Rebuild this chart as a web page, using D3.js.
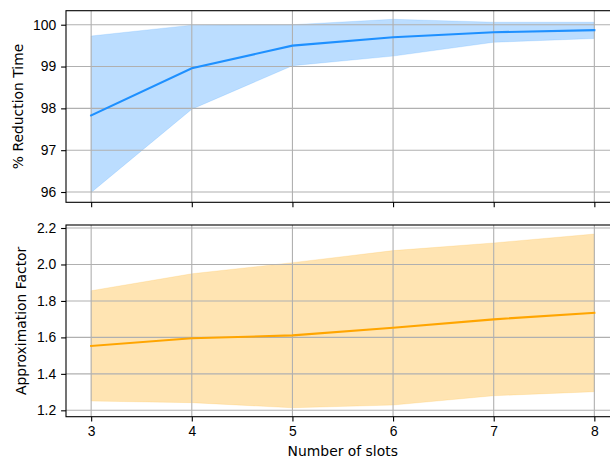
<!DOCTYPE html>
<html>
<head>
<meta charset="utf-8">
<script src="https://cdn.jsdelivr.net/npm/d3@7"></script>
<style>
  body { margin: 0; background: #fff; }
  svg { display: block; font-family: "DejaVu Sans", sans-serif; }
</style>
</head>
<body>
<div id="chart"></div>
<script>
// data
const slots = [3, 4, 5, 6, 7, 8];
const reductionMean = [97.83, 98.96, 99.50, 99.70, 99.82, 99.87];
const reductionHigh = [99.73, 99.99, 100.00, 100.13, 100.06, 100.06];
const reductionLow  = [95.99, 97.98, 99.02, 99.25, 99.58, 99.67];
const approxMean = [1.553, 1.595, 1.611, 1.653, 1.699, 1.735];
const approxHigh = [1.856, 1.949, 2.010, 2.076, 2.118, 2.167];
const approxLow  = [1.251, 1.242, 1.214, 1.229, 1.280, 1.302];
const reductionTicks = [96, 97, 98, 99, 100];
const approxTicks = [1.2, 1.4, 1.6, 1.8, 2.0, 2.2];

const width = 610, height = 459;
const fontSize = "13.9px";

const svg = d3.select("#chart").append("svg")
  .attr("width", width)
  .attr("height", height);

// x extends past the right edge of the picture (figure is cropped)
const x = d3.scaleLinear()
  .domain([2.75, 8.25])
  .range([66, 619.5]);

function drawPanel(opts) {
  const y = d3.scaleLinear()
    .domain(opts.domain)
    .range([opts.bottom, opts.top]);

  const g = svg.append("g");

  // band
  const area = d3.area()
    .x((d, i) => x(slots[i]))
    .y0((d, i) => y(opts.low[i]))
    .y1((d, i) => y(opts.high[i]));
  g.append("path")
    .datum(slots)
    .attr("d", area)
    .attr("fill", opts.color)
    .attr("fill-opacity", 0.3)
    .attr("stroke", opts.color)
    .attr("stroke-opacity", 0.3)
    .attr("stroke-width", 0.5);

  // grid
  g.append("g").selectAll("line").data(slots).join("line")
    .attr("x1", d => x(d)).attr("x2", d => x(d))
    .attr("y1", opts.top).attr("y2", opts.bottom)
    .attr("stroke", "#b0b0b0").attr("stroke-width", 1.1);
  g.append("g").selectAll("line").data(opts.ticks).join("line")
    .attr("x1", x.range()[0]).attr("x2", x.range()[1])
    .attr("y1", d => y(d)).attr("y2", d => y(d))
    .attr("stroke", "#b0b0b0").attr("stroke-width", 1.1);

  // mean line
  const line = d3.line()
    .x((d, i) => x(slots[i]))
    .y(d => y(d));
  g.append("path")
    .datum(opts.mean)
    .attr("d", line)
    .attr("fill", "none")
    .attr("stroke", opts.color)
    .attr("stroke-width", 2.1)
    .attr("stroke-linecap", "square");

  // axes
  const yAxis = g.append("g")
    .attr("transform", `translate(${x.range()[0]},0)`)
    .call(d3.axisLeft(y).tickValues(opts.ticks).tickSize(4.9).tickPadding(4.9)
      .tickFormat(opts.format));
  yAxis.select(".domain").remove();
  yAxis.selectAll("text").style("font-size", fontSize).attr("fill", "#000");
  yAxis.selectAll("line").attr("stroke", "#000").attr("stroke-width", 1.1);

  const xAxis = g.append("g")
    .attr("transform", `translate(0,${opts.bottom})`)
    .call(d3.axisBottom(x).tickValues(slots).tickSize(4.9).tickPadding(4.9)
      .tickFormat(opts.showX ? d3.format("d") : ""));
  xAxis.select(".domain").remove();
  xAxis.selectAll("text").style("font-size", fontSize).attr("fill", "#000");
  xAxis.selectAll("line").attr("stroke", "#000").attr("stroke-width", 1.1);

  // spines
  g.append("rect")
    .attr("x", x.range()[0])
    .attr("y", opts.top)
    .attr("width", x.range()[1] - x.range()[0])
    .attr("height", opts.bottom - opts.top)
    .attr("fill", "none")
    .attr("stroke", "#000")
    .attr("stroke-width", 1.1);

  // y label
  svg.append("text")
    .attr("transform", `translate(${opts.labelX},${(opts.top + opts.bottom) / 2}) rotate(-90)`)
    .attr("text-anchor", "middle")
    .attr("dominant-baseline", "central")
    .style("font-size", fontSize)
    .text(opts.label);
}

drawPanel({
  top: 10.7, bottom: 202.3,
  domain: [95.754, 100.335],
  ticks: reductionTicks,
  format: d3.format("d"),
  low: reductionLow, high: reductionHigh, mean: reductionMean,
  color: "#1e90ff",
  label: "% Reduction Time",
  labelX: 17.5,
  showX: false
});

drawPanel({
  top: 225, bottom: 416.7,
  domain: [1.165, 2.2165],
  ticks: approxTicks,
  format: d3.format(".1f"),
  low: approxLow, high: approxHigh, mean: approxMean,
  color: "#ffa500",
  label: "Approximation Factor",
  labelX: 21,
  showX: true
});

svg.append("text")
  .attr("x", (x.range()[0] + x.range()[1]) / 2)
  .attr("y", 451)
  .attr("text-anchor", "middle")
  .attr("dominant-baseline", "central")
  .style("font-size", fontSize)
  .text("Number of slots");
</script>
</body>
</html>
